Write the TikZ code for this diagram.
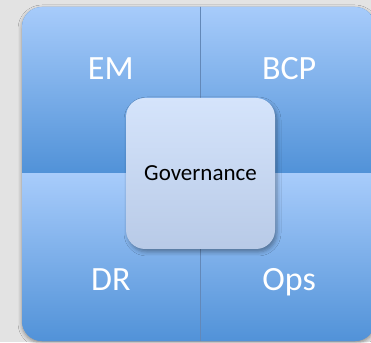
\documentclass[tikz,border=0pt]{standalone}
\usepackage{fontspec}
\setmainfont{Carlito}
\usetikzlibrary{shadows.blur}

\definecolor{bggray}{HTML}{E3E3E3}
\definecolor{quadtop}{HTML}{A8CCFB}
\definecolor{quadbot}{HTML}{5192D8}
\definecolor{govtop}{HTML}{D5E4FB}
\definecolor{govbot}{HTML}{B8CAE7}
\definecolor{divcol}{HTML}{6388B8}

\tikzset{
  quad/.style={rectangle, inner sep=0pt, minimum width=178pt, minimum height=168pt,
    shading=axis, top color=quadtop, bottom color=quadbot},
  lbl/.style={anchor=base, text=white, font=\fontsize{34}{40}\selectfont},
  govbox/.style={rectangle, rounded corners=19pt, minimum width=149pt, minimum height=151pt,
    shading=axis, top color=govtop, bottom color=govbot, text=black,
    font=\fontsize{23}{27}\selectfont,
    blur shadow={shadow xshift=2pt, shadow yshift=-3pt, shadow blur radius=4pt, shadow opacity=35}},
}

\begin{document}
\begin{tikzpicture}[x=1pt,y=1pt]
  \useasboundingbox (0,0) rectangle (371,342);
  \clip (0,0) rectangle (371,342);
  \fill[bggray] (0,0) rectangle (371,342);

  % outer frame
  \fill[quadbot, rounded corners=20pt,
    blur shadow={shadow xshift=0pt, shadow yshift=-2pt, shadow blur radius=4pt, shadow opacity=40}]
    (22,1) rectangle (375,335);
  \begin{scope}
    \clip[rounded corners=20pt] (22,1) rectangle (375,335);
    \node[quad, anchor=south east] (em) at (200,169) {};
    \node[quad, anchor=south west] (bcp) at (200,169) {};
    \node[quad, anchor=north east] (dr) at (200,169) {};
    \node[quad, anchor=north west] (ops) at (200,169) {};
    \draw[divcol, line width=1pt] (em.north east) -- (dr.south east);
  \end{scope}

  \node[lbl] at ([yshift=9pt]em.center) {EM};
  \node[lbl] at ([yshift=9pt]bcp.center) {BCP};
  \node[lbl] at ([yshift=-33pt]dr.center) {DR};
  \node[lbl] at ([yshift=-33pt]ops.center) {Ops};

  \node[govbox] (gov) at (200.5,168.5) {Governance};
\end{tikzpicture}
\end{document}
